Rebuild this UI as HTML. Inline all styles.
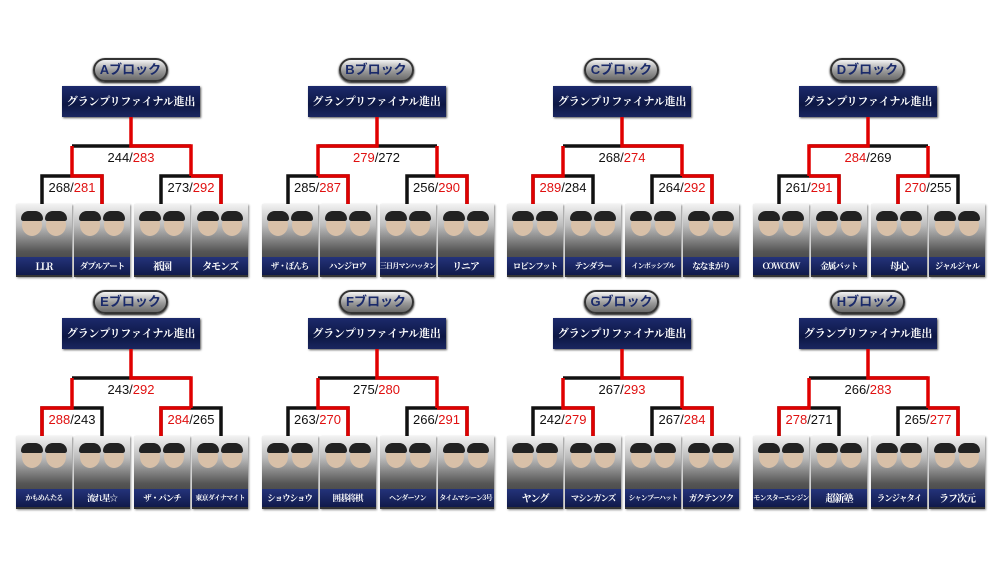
<!DOCTYPE html>
<html><head><meta charset="utf-8"><style>
body{margin:0;width:1000px;height:563px;background:#fff;overflow:hidden;position:relative;font-family:"Liberation Sans","Noto Sans CJK JP",sans-serif}
.b{position:absolute;width:250px;height:280px}
.b svg{position:absolute;left:0;top:0;z-index:2}
.pill{position:absolute;left:93px;top:58px;width:71px;height:20px;border:2px solid #333;border-radius:12px;background:linear-gradient(#f4f4f4,#9a9a9a 55%,#6a6a6a);text-align:center;font:bold 13px/20px "Liberation Sans","Noto Sans CJK JP",sans-serif;color:#1a2a6a;box-shadow:0 1px 2px #000}
.box{position:absolute;left:62px;top:86px;width:138px;height:31px;background:linear-gradient(#1c2a6c,#0d1744 60%,#1a2660);color:#fff;text-align:center;font:bold 11px/31px "Noto Serif CJK SC","Noto Sans CJK JP",serif;box-shadow:1px 1px 2px #555;letter-spacing:-0.2px;white-space:nowrap}
.s{position:absolute;font-size:13px;color:#111;width:70px;text-align:center;z-index:3}
.s i{font-style:normal;color:#e01010}
.p{position:absolute;top:204px;width:56px;height:73px;background:linear-gradient(#f2f2f2,#bbb 30%,#555 65%,#333);box-shadow:1px 1px 2px #888;overflow:hidden}
.p b{position:absolute;left:0;right:0;bottom:2px;height:18px;background:linear-gradient(#24337a,#101a4a);color:#fff;font:bold 10px/18px "Noto Serif CJK SC","Noto Sans CJK JP",serif;text-align:center;white-space:nowrap;overflow:hidden;letter-spacing:-1px}
.p b.l{font-size:7px;letter-spacing:-0.8px}
.p b.m{font-size:8.5px}
.p u{position:absolute;top:10px;width:20px;height:22px;border-radius:50%;background:#d8c0a8;text-decoration:none}
.p u:before{content:"";position:absolute;left:-1px;top:-3px;width:22px;height:10px;border-radius:10px 10px 3px 3px;background:#222}
</style></head><body>
<div class="b" style="left:0;top:0">
<div class="pill">Aブロック</div><div class="box">グランプリファイナル進出</div>
<svg width="250" height="280"><g fill="none" stroke-width="3.5"><path d="M72 146H191M42 204V176H102V204M161 204V176H221V204" stroke="#111"/><path d="M131 117V146H191V176M72 146V176H102V204M191 176H221V204" stroke="#e00000"/></g></svg>
<div class="s" style="left:96px;top:150px">244/<i>283</i></div><div class="s" style="left:37px;top:180px">268/<i>281</i></div><div class="s" style="left:156px;top:180px">273/<i>292</i></div>
<div class="p" style="left:16px"><u style="left:6px"></u><u style="left:30px"></u><b>LLR</b></div><div class="p" style="left:74px"><u style="left:6px"></u><u style="left:30px"></u><b class="m">ダブルアート</b></div><div class="p" style="left:134px"><u style="left:6px"></u><u style="left:30px"></u><b>祇園</b></div><div class="p" style="left:192px"><u style="left:6px"></u><u style="left:30px"></u><b>タモンズ</b></div>
</div>

<div class="b" style="left:245.5px;top:0">
<div class="pill">Bブロック</div><div class="box">グランプリファイナル進出</div>
<svg width="250" height="280"><g fill="none" stroke-width="3.5"><path d="M72 146H191M42 204V176H102V204M161 204V176H221V204" stroke="#111"/><path d="M131 117V146H72V176M72 176H102V204M191 146V176H221V204" stroke="#e00000"/></g></svg>
<div class="s" style="left:96px;top:150px"><i>279</i>/272</div><div class="s" style="left:37px;top:180px">285/<i>287</i></div><div class="s" style="left:156px;top:180px">256/<i>290</i></div>
<div class="p" style="left:16px"><u style="left:6px"></u><u style="left:30px"></u><b class="m">ザ・ぼんち</b></div><div class="p" style="left:74px"><u style="left:6px"></u><u style="left:30px"></u><b class="m">ハンジロウ</b></div><div class="p" style="left:134px"><u style="left:6px"></u><u style="left:30px"></u><b class="l">三日月マンハッタン</b></div><div class="p" style="left:192px"><u style="left:6px"></u><u style="left:30px"></u><b>リニア</b></div>
</div>

<div class="b" style="left:491px;top:0">
<div class="pill">Cブロック</div><div class="box">グランプリファイナル進出</div>
<svg width="250" height="280"><g fill="none" stroke-width="3.5"><path d="M72 146H191M42 204V176H102V204M161 204V176H221V204" stroke="#111"/><path d="M131 117V146H191V176M72 146V176H42V204M191 176H221V204" stroke="#e00000"/></g></svg>
<div class="s" style="left:96px;top:150px">268/<i>274</i></div><div class="s" style="left:37px;top:180px"><i>289</i>/284</div><div class="s" style="left:156px;top:180px">264/<i>292</i></div>
<div class="p" style="left:16px"><u style="left:6px"></u><u style="left:30px"></u><b class="m">ロビンフット</b></div><div class="p" style="left:74px"><u style="left:6px"></u><u style="left:30px"></u><b class="m">テンダラー</b></div><div class="p" style="left:134px"><u style="left:6px"></u><u style="left:30px"></u><b class="l">インポッシブル</b></div><div class="p" style="left:192px"><u style="left:6px"></u><u style="left:30px"></u><b class="m">ななまがり</b></div>
</div>

<div class="b" style="left:737px;top:0">
<div class="pill">Dブロック</div><div class="box">グランプリファイナル進出</div>
<svg width="250" height="280"><g fill="none" stroke-width="3.5"><path d="M72 146H191M42 204V176H102V204M161 204V176H221V204" stroke="#111"/><path d="M131 117V146H72V176M72 176H102V204M191 146V176H161V204" stroke="#e00000"/></g></svg>
<div class="s" style="left:96px;top:150px"><i>284</i>/269</div><div class="s" style="left:37px;top:180px">261/<i>291</i></div><div class="s" style="left:156px;top:180px"><i>270</i>/255</div>
<div class="p" style="left:16px"><u style="left:6px"></u><u style="left:30px"></u><b class="m">COWCOW</b></div><div class="p" style="left:74px"><u style="left:6px"></u><u style="left:30px"></u><b class="m">金属バット</b></div><div class="p" style="left:134px"><u style="left:6px"></u><u style="left:30px"></u><b>母心</b></div><div class="p" style="left:192px"><u style="left:6px"></u><u style="left:30px"></u><b class="m">ジャルジャル</b></div>
</div>

<div class="b" style="left:0;top:232px">
<div class="pill">Eブロック</div><div class="box">グランプリファイナル進出</div>
<svg width="250" height="280"><g fill="none" stroke-width="3.5"><path d="M72 146H191M42 204V176H102V204M161 204V176H221V204" stroke="#111"/><path d="M131 117V146H191V176M72 146V176H42V204M191 176H161V204" stroke="#e00000"/></g></svg>
<div class="s" style="left:96px;top:150px">243/<i>292</i></div><div class="s" style="left:37px;top:180px"><i>288</i>/243</div><div class="s" style="left:156px;top:180px"><i>284</i>/265</div>
<div class="p" style="left:16px"><u style="left:6px"></u><u style="left:30px"></u><b class="l">かもめんたる</b></div><div class="p" style="left:74px"><u style="left:6px"></u><u style="left:30px"></u><b class="m">流れ星☆</b></div><div class="p" style="left:134px"><u style="left:6px"></u><u style="left:30px"></u><b class="m">ザ・パンチ</b></div><div class="p" style="left:192px"><u style="left:6px"></u><u style="left:30px"></u><b class="l">東京ダイナマイト</b></div>
</div>

<div class="b" style="left:245.5px;top:232px">
<div class="pill">Fブロック</div><div class="box">グランプリファイナル進出</div>
<svg width="250" height="280"><g fill="none" stroke-width="3.5"><path d="M72 146H191M42 204V176H102V204M161 204V176H221V204" stroke="#111"/><path d="M131 117V146H191V176M72 146V176H102V204M191 176H221V204" stroke="#e00000"/></g></svg>
<div class="s" style="left:96px;top:150px">275/<i>280</i></div><div class="s" style="left:37px;top:180px">263/<i>270</i></div><div class="s" style="left:156px;top:180px">266/<i>291</i></div>
<div class="p" style="left:16px"><u style="left:6px"></u><u style="left:30px"></u><b class="m">ショウショウ</b></div><div class="p" style="left:74px"><u style="left:6px"></u><u style="left:30px"></u><b class="m">囲碁将棋</b></div><div class="p" style="left:134px"><u style="left:6px"></u><u style="left:30px"></u><b class="l">ヘンダーソン</b></div><div class="p" style="left:192px"><u style="left:6px"></u><u style="left:30px"></u><b class="l">タイムマシーン3号</b></div>
</div>

<div class="b" style="left:491px;top:232px">
<div class="pill">Gブロック</div><div class="box">グランプリファイナル進出</div>
<svg width="250" height="280"><g fill="none" stroke-width="3.5"><path d="M72 146H191M42 204V176H102V204M161 204V176H221V204" stroke="#111"/><path d="M131 117V146H191V176M72 146V176H102V204M191 176H221V204" stroke="#e00000"/></g></svg>
<div class="s" style="left:96px;top:150px">267/<i>293</i></div><div class="s" style="left:37px;top:180px">242/<i>279</i></div><div class="s" style="left:156px;top:180px">267/<i>284</i></div>
<div class="p" style="left:16px"><u style="left:6px"></u><u style="left:30px"></u><b>ヤング</b></div><div class="p" style="left:74px"><u style="left:6px"></u><u style="left:30px"></u><b class="m">マシンガンズ</b></div><div class="p" style="left:134px"><u style="left:6px"></u><u style="left:30px"></u><b class="l">シャンプーハット</b></div><div class="p" style="left:192px"><u style="left:6px"></u><u style="left:30px"></u><b class="m">ガクテンソク</b></div>
</div>

<div class="b" style="left:737px;top:232px">
<div class="pill">Hブロック</div><div class="box">グランプリファイナル進出</div>
<svg width="250" height="280"><g fill="none" stroke-width="3.5"><path d="M72 146H191M42 204V176H102V204M161 204V176H221V204" stroke="#111"/><path d="M131 117V146H191V176M72 146V176H42V204M191 176H221V204" stroke="#e00000"/></g></svg>
<div class="s" style="left:96px;top:150px">266/<i>283</i></div><div class="s" style="left:37px;top:180px"><i>278</i>/271</div><div class="s" style="left:156px;top:180px">265/<i>277</i></div>
<div class="p" style="left:16px"><u style="left:6px"></u><u style="left:30px"></u><b class="l">モンスターエンジン</b></div><div class="p" style="left:74px"><u style="left:6px"></u><u style="left:30px"></u><b>超新塾</b></div><div class="p" style="left:134px"><u style="left:6px"></u><u style="left:30px"></u><b class="m">ランジャタイ</b></div><div class="p" style="left:192px"><u style="left:6px"></u><u style="left:30px"></u><b>ラフ次元</b></div>
</div>
</body></html>
